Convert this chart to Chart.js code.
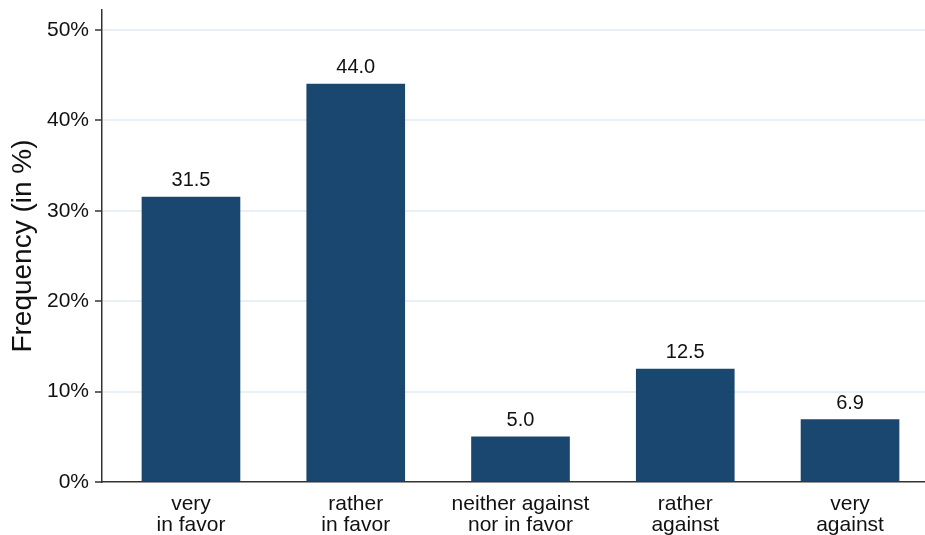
<!DOCTYPE html>
<html>
<head>
<meta charset="utf-8">
<script src="https://cdn.jsdelivr.net/npm/chart.js@4"></script>
<style>
  html, body { margin: 0; padding: 0; background: #ffffff; }
  #wrap { width: 925px; height: 535px; position: relative; }
</style>
</head>
<body>
<div id="wrap"><canvas id="c"></canvas></div>
<script>
const categories = [
  ['very', 'in favor'],
  ['rather', 'in favor'],
  ['neither against', 'nor in favor'],
  ['rather', 'against'],
  ['very', 'against']
];
const frequencies = [31.5, 44.0, 5.0, 12.5, 6.9];
const yTickValues = [0, 10, 20, 30, 40, 50];

const FONT = "'Liberation Sans', Arial, sans-serif";

const valueLabels = {
  id: 'valueLabels',
  afterDatasetsDraw(chart) {
    const ctx = chart.ctx;
    const meta = chart.getDatasetMeta(0);
    ctx.save();
    ctx.font = "20px " + FONT;
    ctx.fillStyle = '#111';
    ctx.textAlign = 'center';
    ctx.textBaseline = 'alphabetic';
    meta.data.forEach((el, i) => {
      ctx.fillText(frequencies[i].toFixed(1), el.x, el.y - 11);
    });
    ctx.restore();
  }
};

new Chart(document.getElementById('c'), {
  type: 'bar',
  data: {
    datasets: [{
      data: frequencies.map((v, i) => ({ x: i, y: v })),
      backgroundColor: '#1a476f',
      borderWidth: 0,
      barThickness: 98
    }]
  },
  options: {
    responsive: true,
    maintainAspectRatio: false,
    animation: false,
    layout: { padding: { left: 0, right: 0, top: 10, bottom: 0 } },
    plugins: {
      legend: { display: false },
      tooltip: { enabled: false }
    },
    scales: {
      x: {
        type: 'linear',
        offset: false,
        bounds: 'ticks',
        min: -0.54,
        max: 4.455,
        afterBuildTicks(scale) {
          scale.ticks = categories.map((c, i) => ({ value: i }));
        },
        afterFit(scale) {
          scale.height = 53;
          scale.paddingLeft = 0;
          scale.paddingRight = 0;
        },
        grid: { display: false, drawTicks: false },
        border: { display: true, color: '#333', width: 1.5 },
        ticks: {
          padding: 12,
          color: '#111',
          font: { family: FONT, size: 21, lineHeight: 1.0 },
          maxRotation: 0,
          autoSkip: false,
          callback: (v) => categories[v]
        }
      },
      y: {
        min: 0,
        max: 52.2,
        afterBuildTicks(scale) {
          scale.ticks = yTickValues.map(v => ({ value: v }));
        },
        afterFit(scale) {
          scale.width = 102;
          scale.paddingTop = 0;
          scale.paddingBottom = 0;
        },
        grid: {
          color: (ctx) => ctx.tick && ctx.tick.value === 0 ? 'rgba(0,0,0,0)' : '#e8f0f3',
          lineWidth: 2,
          drawTicks: true,
          tickLength: 7,
          tickColor: '#333',
          tickWidth: 1.5
        },
        border: { display: true, color: '#333', width: 1.5 },
        ticks: {
          padding: 6,
          color: '#111',
          font: { family: FONT, size: 21, lineHeight: 1.0 },
          callback: (v) => v + '%'
        },
        title: {
          display: true,
          text: 'Frequency (in %)',
          color: '#111',
          font: { family: FONT, size: 28 },
          padding: { top: 6, bottom: 0 }
        }
      }
    }
  },
  plugins: [valueLabels]
});
</script>
</body>
</html>
